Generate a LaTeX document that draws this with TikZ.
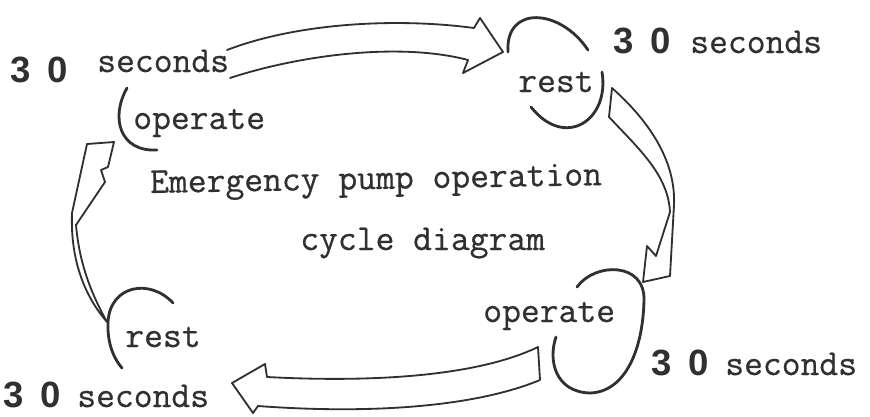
\documentclass[tikz,border=0pt]{standalone}
\usepackage{fontspec}
\newfontfamily\typew{Latin Modern Mono}[FakeBold=0.6]
\newfontfamily\digitfont{Liberation Sans}
\definecolor{ink}{HTML}{303030}

\begin{document}
\begin{tikzpicture}[x=0.025cm, y=-0.025cm, line cap=round, line join=round,
		txt/.style={font=\fontsize{26}{30}\selectfont\typew, text=ink, inner sep=0pt, anchor=base west},
		num/.style={font=\fontsize{26}{30}\selectfont\digitfont\bfseries, text=ink, inner sep=0pt, anchor=base west},
		brk/.style={draw=ink, line width=2pt},
		blk/.style={draw=ink, line width=1.3pt}]
			% Fix the window (pixel units, y pointing down)
			\useasboundingbox (0,0) rectangle (870,416);
			\def\thirty{3\hspace{0.45em}0}
			
			% Title in the middle
			\node[txt, rotate=1] (title) at (150,193) {Emergency pump operation};
			\node[txt] (title2) at (300,250) {cycle diagram};
			
			% The four states
			\node[txt] (opA) at (133,129) {operate};
			\node[txt] (restA) at (518,92) {rest};
			\node[txt] (opB) at (483,322) {operate};
			\node[txt] (restB) at (125,347) {rest};
			
			% Durations
			\node[num] (tA) at (10,82) {\thirty};
			\node[txt] (sA) at (97,72) {seconds};
			\node[num] (tB) at (613,53) {\thirty};
			\node[txt] (sB) at (690,53) {seconds};
			\node[num] (tC) at (651,375) {\thirty};
			\node[txt] (sC) at (725,375) {seconds};
			\node[num] (tD) at (3,407) {\thirty};
			\node[txt] (sD) at (77,407) {seconds};
			
			% Brackets round the states
			\draw[brk] (127,88) .. controls (110,118) and (120,152) .. (157,150);
			\draw[brk] (508,52) .. controls (505,5) and (560,8) .. (588,50);
			\draw[brk] (602,72) .. controls (610,120) and (565,150) .. (531,107);
			\draw[brk] (577,287) .. controls (595,262) and (645,262) .. (644,300)
				.. controls (643,350) and (625,392) .. (590,393)
				.. controls (555,392) and (548,360) .. (556,337);
			\draw[brk] (173,303) .. controls (150,278) and (110,285) .. (108,322)
				.. controls (107,345) and (115,360) .. (122,368);
			
			% Top arrow: operate -> rest
			\draw[blk] (227,50) .. controls (300,22) and (400,18) .. (474,28)
				-- (480,18) -- (503,52) -- (463,73) -- (468,60)
				.. controls (400,42) and (300,55) .. (230,78);
			
			% Right arrow: rest -> operate
			\draw[blk] (609,117) -- (612,88) .. controls (648,120) and (676,160) .. (674,205)
				-- (670,276) -- (643,282) -- (647,246) -- (656,256) -- (670,212)
				.. controls (668,175) and (640,150) .. cycle;
			
			% Bottom arrow: operate -> rest
			\draw[blk] (538,347) .. controls (480,375) and (380,383) .. (267,377)
				-- (265,364) -- (232,383) -- (253,413) -- (258,406)
				.. controls (380,415) and (480,405) .. (540,380) -- cycle;
			
			% Left arrow: rest -> operate
			\draw[blk] (107,322) .. controls (88,300) and (70,265) .. (72,213)
				-- (87,144) -- (114,142) -- (108,167) -- (101,170) -- (105,182)
				-- (76,225) .. controls (80,270) and (95,300) .. cycle;
		\end{tikzpicture}
\end{document}
